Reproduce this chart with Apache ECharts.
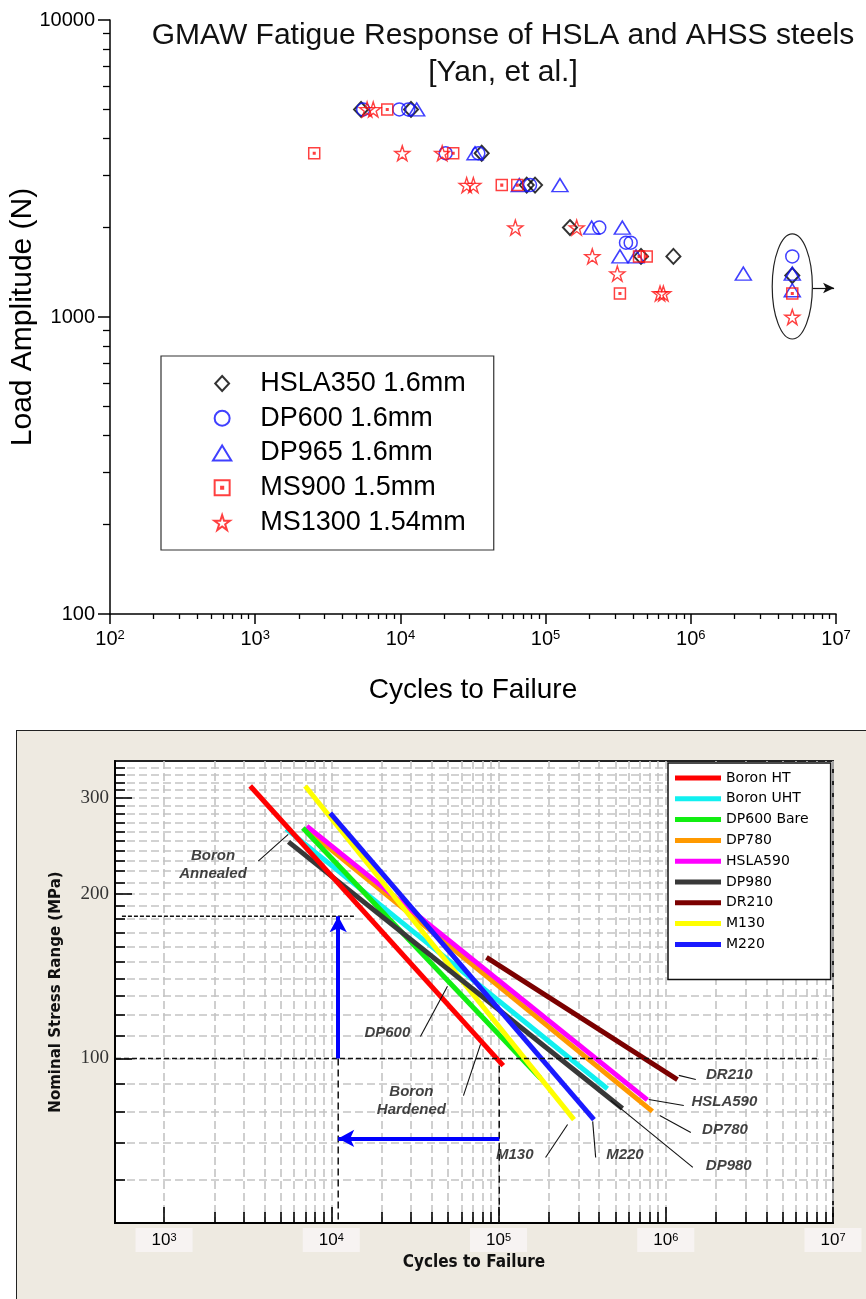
<!DOCTYPE html>
<html>
<head>
<meta charset="utf-8">
<title>GMAW Fatigue Response</title>
<script src="https://cdn.jsdelivr.net/npm/echarts@6.0.0/dist/echarts.min.js"></script>
<style>
html,body{margin:0;padding:0;background:#fff;overflow:hidden}
#panel{position:absolute;left:16px;top:730px;width:880px;height:620px;background:#EEEAE1;border:1px solid #222;box-sizing:border-box}
#c{position:absolute;left:0;top:0;width:866px;height:1299px}
</style>
</head>
<body>
<div id="panel"></div>
<div id="c"></div>
<script>
// ================= TOP CHART DATA (Cycles, Load N) =================
const topNames = ['HSLA350 1.6mm', 'DP600 1.6mm', 'DP965 1.6mm', 'MS900 1.5mm', 'MS1300 1.54mm'];
const hsla350 = [[5360,5000],[11830,5000],[36300,3560],[74100,2780],[84600,2780],[147200,2000],[454000,1600],[758900,1600],[5000000,1380]];
const dp600 = [[5540,5000],[9830,5000],[11330,5000],[20500,3560],[34400,3560],[78100,2780],[234200,2000],[357900,1780],[385400,1780],[5000000,1600]];
const dp965 = [[12940,5000],[32650,3560],[65900,2780],[125600,2780],[207600,2000],[337600,2000],[325300,1600],[419500,1600],[2300000,1400],[5000000,1400],[5000000,1230]];
const ms900 = [[8120,5000],[2550,3560],[23100,3560],[49900,2780],[63800,2780],[440000,1600],[497000,1600],[325000,1200],[5000000,1200]];
const ms1300 = [[5900,5000],[6500,5000],[10300,3560],[19400,3560],[28600,2780],[31800,2780],[61900,2000],[163700,2000],[209700,1600],[311900,1400],[613800,1200],[647000,1200],[5000000,1000]];

// top axes ticks / labels
const topXMajor = [1e2, 1e3, 1e4, 1e5, 1e6, 1e7];
const topYMajor = [100, 1000, 10000];
const mantissas = [2, 3, 4, 5, 6, 7, 8, 9];
// run-out annotation (ellipse + arrow)
const runoutCenter = [5000000, 1267];
const runoutXRange = [3660000, 6920000];
const runoutYRange = [843, 1903];
const runoutArrow = [[6920000, 1252], [9700000, 1252]];

// ================= BOTTOM CHART DATA (Cycles, Stress MPa) =================
const bottomNames = ['Boron HT','Boron UHT','DP600 Bare','DP780','HSLA590','DP980','DR210','M130','M220'];
const boronHT   = [[3275, 315], [106700, 97]];
const boronUHT  = [[5380, 263], [448000, 88]];
const dp600Bare = [[6760, 264], [178000, 92]];
const dp780     = [[7140, 262], [832000, 80]];
const hsla590   = [[7140, 266], [776000, 84]];
const dp980     = [[5550, 249], [551000, 81]];
const dr210     = [[84700, 153], [1175000, 91.5]];
const m130      = [[6980, 315], [282600, 77.3]];
const m220      = [[9860, 281], [372000, 77.3]];

const botXMajor = [1e3, 1e4, 1e5, 1e6, 1e7];
const botYMajor = [100, 200, 300];
const botYMinor = [60,70,80,90,110,120,130,140,150,160,170,180,190,210,220,230,240,250,260,270,280,290,310,320,330,340];

// reference lines and arrows
const ref100 = [[516, 100], [8240000, 100]];
const ref182 = [[560, 182], [13930, 182]];
const vref1  = [[11000, 100], [11000, 50]];
const vref2  = [[101000, 97], [101000, 50]];
const arrowUp   = [[11000, 100], [11000, 182]];
const arrowLeft = [[101000, 71.4], [11000, 71.4]];

// annotation labels and leaders
const annoTexts = [
  {name: 'Boron\nAnnealed', value: [1963, 225.7]},
  {name: 'DP600', value: [21630, 111.6]},
  {name: 'Boron\nHardened', value: [30130, 83.8]},
  {name: 'M130', value: [125000, 66.7]},
  {name: 'M220', value: [570000, 66.7]},
  {name: 'DP980', value: [2380000, 63.7]},
  {name: 'DP780', value: [2260000, 74.1]},
  {name: 'HSLA590', value: [2240000, 83.4]},
  {name: 'DR210', value: [2400000, 93.5]}
];
const leaders = [
  [[3656, 229.5], [5527, 257]],
  [[34120, 109.7], [49520, 135.5]],
  [[61700, 85.5], [78030, 106.1]],
  [[191100, 65.9], [258800, 75.7]],
  [[381000, 65.9], [365600, 76.7]],
  [[1452000, 63.2], [468700, 83.8]],
  [[1412000, 73.2], [920000, 78.6]],
  [[1282000, 82.0], [791000, 84.1]],
  [[1513000, 91.5], [1197000, 93.1]]
];

// ================= helpers =================
function minorTicks(e0, e1) {
  const out = [];
  for (let e = e0; e < e1; e++) mantissas.forEach(m => out.push(m * Math.pow(10, e)));
  return out;
}
const topXMinor = minorTicks(2, 7);
const topYMinor = minorTicks(2, 4);
const botXMinor = minorTicks(3, 7);

const F = "'Liberation Sans', Arial, sans-serif";
const DJ = "'DejaVu Sans', Verdana, sans-serif";

const starPath = 'path://M50,2L61.8,38.2L99,38.2L69,60.5L80.5,96.5L50,74L19.5,96.5L31,60.5L1,38.2L38.2,38.2Z';
const sqDotPath = 'path://M0,0L10,0L10,10L0,10Z M4.3,4.3L5.7,4.3L5.7,5.7L4.3,5.7Z';
const diamondPath = 'path://M5,0L10,5.4L5,10.8L0,5.4Z';
const trianglePath = 'path://M5,0L10,8.2L0,8.2Z';

function topScatter(name, data, symbol, size, color, bw) {
  return {
    name, type: 'scatter', xAxisIndex: 0, yAxisIndex: 0, data, symbol, symbolSize: size,
    itemStyle: {color: 'rgba(0,0,0,0)', borderColor: color, borderWidth: bw},
    emphasis: {disabled: true}, z: 3
  };
}
function botLine(name, data, color, z) {
  return {
    name, type: 'line', xAxisIndex: 2, yAxisIndex: 2, data, symbol: 'none', color,
    lineStyle: {color, width: 5, cap: 'butt'}, emphasis: {disabled: true}, z, silent: true
  };
}
function plainLine(data, color, width, type) {
  return {
    type: 'line', xAxisIndex: 2, yAxisIndex: 2, data, symbol: 'none', silent: true,
    lineStyle: {color, width, type}, emphasis: {disabled: true}, z: 4
  };
}

const supRich = (size, esize) => ({
  b: {fontSize: size, fontFamily: F, color: '#000'},
  e: {fontSize: esize, fontFamily: F, color: '#000', verticalAlign: 'top'}
});

const chart = echarts.init(document.getElementById('c'), null, {renderer: 'canvas'});

const option = {
  animation: false,
  backgroundColor: 'transparent',
  textStyle: {fontFamily: F},
  grid: [
    {left: 110, right: 30, top: 20, height: 594, containLabel: false, outerBoundsMode: 'none'},
    {left: 115, right: 33, top: 761, height: 462, containLabel: false, outerBoundsMode: 'none',
      show: true, backgroundColor: '#fff', borderColor: '#222', borderWidth: 2}
  ],
  legend: [
    {
      data: topNames, orient: 'vertical', left: 161, top: 356, padding: [14, 28, 14, 51],
      itemWidth: 66, itemHeight: 15, itemGap: 7.75, selectedMode: false, symbolKeepAspect: true,
      borderColor: '#333', borderWidth: 1.2, backgroundColor: '#fff',
      textStyle: {fontSize: 27, lineHeight: 27, color: '#000', fontFamily: F}
    },
    {
      data: bottomNames, orient: 'vertical', left: 668, top: 763, padding: [8, 22, 28, 7],
      icon: 'rect', itemWidth: 46, itemHeight: 5, itemGap: 6.8, selectedMode: false,
      borderColor: '#111', borderWidth: 1.5, backgroundColor: '#fff',
      itemStyle: {borderWidth: 0},
      textStyle: {fontSize: 14, lineHeight: 14, color: '#000', fontFamily: DJ}
    }
  ],
  xAxis: [
    { // top major
      gridIndex: 0, type: 'log', min: 100, max: 1e7, position: 'bottom',
      name: 'Cycles to Failure', nameLocation: 'middle', nameGap: 62, nameMoveOverlap: false,
      nameTextStyle: {fontSize: 28, color: '#000', fontFamily: F},
      axisLine: {show: true, onZero: false, lineStyle: {color: '#000', width: 1.5}},
      axisTick: {show: true, inside: false, length: 10, customValues: topXMajor, lineStyle: {color: '#000', width: 1.5}},
      axisLabel: {customValues: topXMajor, margin: 15, formatter: v => '{b|10}{e|' + Math.round(Math.log10(v)) + '}', rich: supRich(20, 13)},
      splitLine: {show: false}, minorTick: {show: false}
    },
    { // top minor
      gridIndex: 0, type: 'log', min: 100, max: 1e7, position: 'bottom',
      axisLine: {show: false},
      axisTick: {show: true, inside: false, length: 5, customValues: topXMinor, lineStyle: {color: '#000', width: 1.3}},
      axisLabel: {show: false}, splitLine: {show: false}
    },
    { // bottom major
      gridIndex: 1, type: 'log', min: 509, max: 1e7, position: 'bottom',
      name: 'Cycles to Failure', nameLocation: 'middle', nameGap: 31,
      nameTextStyle: {fontSize: 17, fontWeight: 'bold', color: '#111', fontFamily: "'DejaVu Sans Condensed', 'DejaVu Sans', sans-serif"},
      axisLine: {show: true, onZero: false, lineStyle: {color: '#000', width: 2}},
      axisTick: {show: true, inside: true, length: 16, customValues: botXMajor, lineStyle: {color: '#000', width: 1.6}},
      axisLabel: {customValues: botXMajor, margin: 5, backgroundColor: '#F7F3F2', padding: [4, 16, 3, 16],
        formatter: v => '{b|10}{e|' + Math.round(Math.log10(v)) + '}', rich: supRich(17, 11)},
      splitLine: {show: true, lineStyle: {color: '#c4c4c4', width: 1.6, type: [8, 4]}}
    },
    { // bottom minor
      gridIndex: 1, type: 'log', min: 509, max: 1e7, position: 'bottom',
      axisLine: {show: false},
      axisTick: {show: true, inside: true, length: 11, customValues: botXMinor, lineStyle: {color: '#000', width: 1.6}},
      axisLabel: {show: false},
      splitLine: {show: true, lineStyle: {color: '#c4c4c4', width: 1.6, type: [8, 4]}}
    }
  ],
  yAxis: [
    { // top major
      gridIndex: 0, type: 'log', min: 100, max: 10000, position: 'left',
      name: 'Load Amplitude (N)', nameLocation: 'middle', nameGap: 72, nameMoveOverlap: false,
      nameTextStyle: {fontSize: 30, color: '#000', fontFamily: F},
      axisLine: {show: true, onZero: false, lineStyle: {color: '#000', width: 1.5}},
      axisTick: {show: true, inside: false, length: 12, customValues: topYMajor, lineStyle: {color: '#000', width: 1.5}},
      axisLabel: {customValues: topYMajor, margin: 15, fontSize: 20, color: '#000', fontFamily: F, formatter: v => String(v)},
      splitLine: {show: false}
    },
    { // top minor
      gridIndex: 0, type: 'log', min: 100, max: 10000, position: 'left',
      axisLine: {show: false},
      axisTick: {show: true, inside: false, length: 7, customValues: topYMinor, lineStyle: {color: '#000', width: 1.3}},
      axisLabel: {show: false}, splitLine: {show: false}
    },
    { // bottom major
      gridIndex: 1, type: 'log', min: 50, max: 350, position: 'left',
      name: 'Nominal Stress Range (MPa)', nameLocation: 'middle', nameGap: 51,
      nameTextStyle: {fontSize: 15, fontWeight: 'bold', color: '#111', fontFamily: DJ},
      axisLine: {show: true, onZero: false, lineStyle: {color: '#000', width: 2}},
      axisTick: {show: true, inside: true, length: 17, customValues: botYMajor, lineStyle: {color: '#000', width: 1.6}},
      axisLabel: {customValues: botYMajor, margin: 6, fontSize: 19, color: '#333', fontFamily: "'Liberation Serif', 'DejaVu Serif', serif", formatter: v => String(v)},
      splitLine: {show: true, lineStyle: {color: '#c4c4c4', width: 1.6, type: [8, 4]}}
    },
    { // bottom minor
      gridIndex: 1, type: 'log', min: 50, max: 350, position: 'left',
      axisLine: {show: false},
      axisTick: {show: true, inside: true, length: 10, customValues: botYMinor, lineStyle: {color: '#000', width: 1.6}},
      axisLabel: {show: false},
      splitLine: {show: true, lineStyle: {color: '#c4c4c4', width: 1.6, type: [8, 4]}}
    }
  ],
  series: [
    topScatter(topNames[0], hsla350, diamondPath, [14, 15], '#000', 2),
    topScatter(topNames[1], dp600, 'circle', 13, '#1010ff', 1.5),
    Object.assign(topScatter(topNames[2], dp965, trianglePath, [16, 13], '#1010ff', 1.5), {
      markLine: {silent: true, symbol: ['none', 'arrow'], symbolSize: [8, 11], label: {show: false},
        lineStyle: {color: '#111', width: 1.2, type: 'solid'},
        data: [[{coord: runoutArrow[0]}, {coord: runoutArrow[1]}]]}
    }),
    topScatter(topNames[3], ms900, sqDotPath, 11, '#ff1010', 1.5),
    topScatter(topNames[4], ms1300, starPath, 15, '#ff1010', 1.4),

    // bottom S-N lines (draw order)
    botLine('DP780', dp780, '#ff9900', 2),
    botLine('HSLA590', hsla590, '#ff00ff', 2),
    botLine('DR210', dr210, '#7b0000', 2),
    botLine('Boron UHT', boronUHT, '#11f0f0', 2),
    botLine('DP600 Bare', dp600Bare, '#11ee11', 2),
    botLine('M130', m130, '#ffff00', 2),
    botLine('DP980', dp980, '#383838', 2),
    botLine('M220', m220, '#1a1aff', 2),
    botLine('Boron HT', boronHT, '#ff0000', 2),

    // reference dashed lines
    plainLine(ref100, '#111', 1.5, [5, 3]),
    plainLine(ref182, '#111', 1.3, [4, 2]),
    plainLine(vref1, '#111', 1.5, [7, 4]),
    Object.assign(plainLine(vref2, '#111', 1.5, [7, 4]), {
      markLine: {silent: true, symbol: ['none', 'arrow'], symbolSize: [13, 16], label: {show: false},
        lineStyle: {color: '#0000ff', width: 4, type: 'solid'},
        data: [
          [{coord: arrowUp[0]}, {coord: arrowUp[1]}],
          [{coord: arrowLeft[0]}, {coord: arrowLeft[1]}]
        ]}
    }),
    // leader lines
    ...leaders.map(d => plainLine(d, '#111', 1.1, 'solid')),
    // annotation texts
    {
      type: 'scatter', xAxisIndex: 2, yAxisIndex: 2, data: annoTexts, symbolSize: 1, silent: true, z: 6,
      itemStyle: {color: 'rgba(0,0,0,0)'},
      label: {show: true, position: 'inside', formatter: '{b}', fontSize: 15, fontWeight: 'bold', fontStyle: 'italic',
        color: '#111', fontFamily: F, lineHeight: 18, align: 'center'}
    }
  ]
};

chart.setOption(option);

// title and run-out ellipse, positioned through the chart's own coordinate conversion
const cv = p => chart.convertToPixel({xAxisIndex: 0, yAxisIndex: 0}, p);
const cc = cv(runoutCenter);
const xl = cv([runoutXRange[0], runoutCenter[1]]);
const xr = cv([runoutXRange[1], runoutCenter[1]]);
const yt = cv([runoutCenter[0], runoutYRange[1]]);
const yb = cv([runoutCenter[0], runoutYRange[0]]);

chart.setOption({
  graphic: {
    elements: [
      {type: 'text', x: 503, y: 36, z: 10, style: {text: 'GMAW Fatigue Response of HSLA and AHSS steels',
        align: 'center', textAlign: 'center', verticalAlign: 'middle', textVerticalAlign: 'middle',
        fontSize: 30, fontFamily: F, fill: '#111'}},
      {type: 'text', x: 503, y: 73, z: 10, style: {text: '[Yan, et al.]',
        align: 'center', textAlign: 'center', verticalAlign: 'middle', textVerticalAlign: 'middle',
        fontSize: 30, fontFamily: F, fill: '#111'}},
      {type: 'ellipse', z: 10, shape: {cx: cc[0], cy: cc[1], rx: (xr[0] - xl[0]) / 2, ry: (yb[1] - yt[1]) / 2},
        style: {fill: 'rgba(0,0,0,0)', stroke: '#222', lineWidth: 1.2}}
    ]
  }
});
</script>
</body>
</html>
